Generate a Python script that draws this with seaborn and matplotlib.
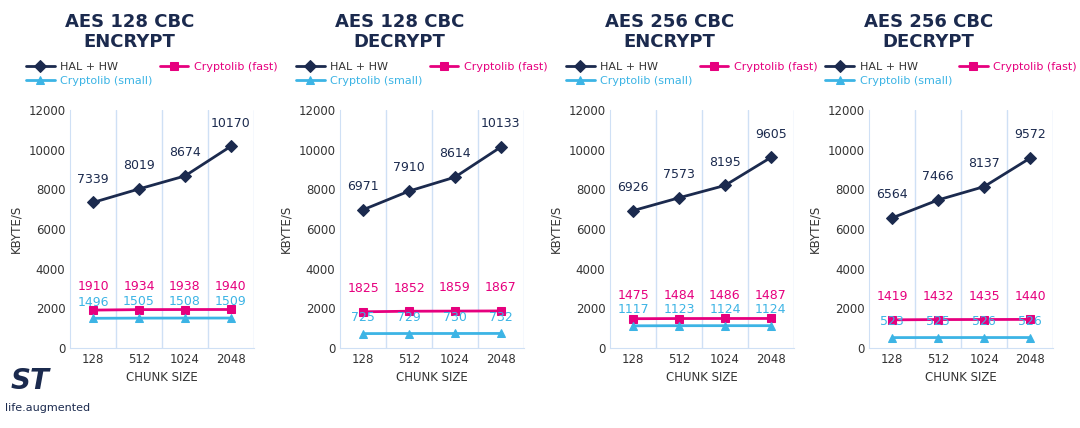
import matplotlib
matplotlib.use("Agg")
import matplotlib.pyplot as plt
import seaborn as sns
import pandas as pd

titles = ["AES 128 CBC\nENCRYPT", "AES 128 CBC\nDECRYPT", "AES 256 CBC\nENCRYPT", "AES 256 CBC\nDECRYPT"]
chunks = ["128", "512", "1024", "2048"]
hal = [[7339, 8019, 8674, 10170], [6971, 7910, 8614, 10133], [6926, 7573, 8195, 9605], [6564, 7466, 8137, 9572]]
fast = [[1910, 1934, 1938, 1940], [1825, 1852, 1859, 1867], [1475, 1484, 1486, 1487], [1419, 1432, 1435, 1440]]
small = [[1496, 1505, 1508, 1509], [725, 729, 730, 732], [1117, 1123, 1124, 1124], [523, 525, 526, 526]]
series = ["HAL + HW", "Cryptolib (fast)", "Cryptolib (small)"]
colors = {"HAL + HW": "#1b2a4e", "Cryptolib (fast)": "#e6007e", "Cryptolib (small)": "#3cb4e5"}
markers = {"HAL + HW": "D", "Cryptolib (fast)": "s", "Cryptolib (small)": "^"}

fig = plt.figure(figsize=(10.8, 4.28), dpi=100)
lefts = [0.065, 0.315, 0.565, 0.805]
sns.set_style("white")
for i in range(4):
    ax = fig.add_axes([lefts[i], 0.187, 0.17, 0.556])
    rows = []
    for s, vals in zip(series, [hal[i], fast[i], small[i]]):
        for j, v in enumerate(vals):
            rows.append({"x": j, "v": v, "s": s})
    df = pd.DataFrame(rows)
    for s in series:
        d = df[df.s == s]
        sns.lineplot(data=d, x="x", y="v", ax=ax, color=colors[s], marker=markers[s],
                     markersize=6, linewidth=2, markeredgecolor=colors[s], label=s, legend=False)
        for x, v in zip(d.x, d.v):
            off = {"HAL + HW": 12, "Cryptolib (fast)": 12, "Cryptolib (small)": 7}[s]
            ax.annotate(str(v), (x, v), xytext=(0, off), textcoords="offset points",
                        ha="center", va="bottom", fontsize=9, color=colors[s])
    ax.set_xlim(-0.5, 3.5)
    ax.set_ylim(0, 12000)
    ax.set_yticks(range(0, 12001, 2000))
    ax.set_xticks(range(4))
    ax.set_xticklabels(chunks)
    for xv in [0.5, 1.5, 2.5, 3.5]:
        ax.axvline(xv, color="#cfe0f5", lw=1, zorder=0)
    for sp in ["top", "right"]:
        ax.spines[sp].set_visible(False)
    ax.spines["left"].set_color("#cfe0f5")
    ax.spines["bottom"].set_color("#cfe0f5")
    ax.tick_params(labelsize=8.5, colors="#333333", length=0)
    ax.set_xlabel("CHUNK SIZE", fontsize=8.5, color="#333333")
    ax.set_ylabel("KBYTE/S", fontsize=8.5, color="#333333")
    h, l = ax.get_legend_handles_labels()
    order = [0, 2, 1]
    h = [h[k] for k in order]
    l = [l[k] for k in order]
    leg = fig.legend(h, l, loc="upper left", bbox_to_anchor=(lefts[i] - 0.045, 0.865), ncol=2,
                     frameon=False, fontsize=8, handlelength=2.6, columnspacing=0.6,
                     labelspacing=0.3, borderaxespad=0, handletextpad=0.5)
    for t, s in zip(leg.get_texts(), l):
        t.set_color("#333333" if s == "HAL + HW" else colors[s])
    fig.text(lefts[i] + 0.055, 0.97, titles[i], ha="center", va="top", fontsize=13,
             fontweight="bold", color="#1b2a4e", linespacing=1.15)
fig.text(0.005, 0.04, "life.augmented", fontsize=8, color="#1b2a4e")
fig.text(0.01, 0.09, "ST", fontsize=20, fontweight="bold", fontstyle="italic", color="#1b2a4e")
fig.savefig("out.png", dpi=100)
